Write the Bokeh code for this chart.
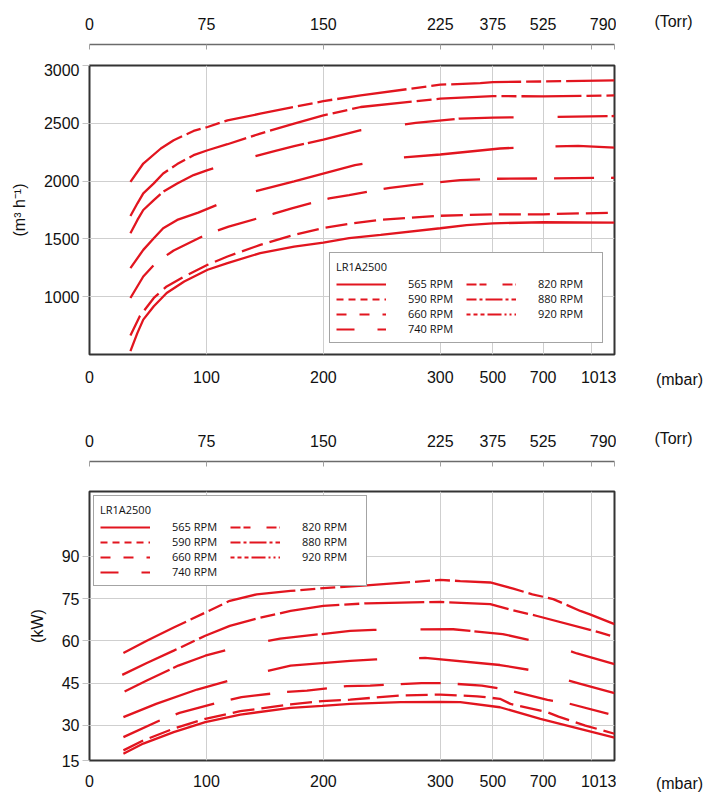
import numpy as np
from bokeh.embed import file_html
from bokeh.layouts import column, row
from bokeh.models import FixedTicker, Legend, LegendItem, Range1d
from bokeh.plotting import figure
from bokeh.resources import INLINE

# pressure axis is not linear: mbar knots and where they sit on the axis
MBAR_KNOTS = [0, 100, 200, 300, 500, 700, 900, 1013]
AXIS_POS = [0, 1, 2, 3, 3.45, 3.88, 4.29, 4.49]
MBAR_LABELS = ["0", "100", "200", "300", "500", "700", "", "1013"]
TORR_LABELS = ["0", "75", "150", "225", "375", "525", "", "790"]

RPMS = ["565 RPM", "590 RPM", "660 RPM", "740 RPM", "820 RPM", "880 RPM", "920 RPM"]

# flow (m3/h) vs pressure (mbar)
flow_565 = [(35, 529), (41, 687), (46, 802), (55, 917), (66, 1032), (81, 1132), (101, 1233), (118, 1290),
            (146, 1377), (175, 1434), (200, 1468), (222, 1506), (249, 1535), (300, 1592), (400, 1620),
            (500, 1635), (700, 1644), (1013, 1641)]
flow_590 = [(35, 664), (43, 831), (55, 989), (66, 1089), (81, 1175), (101, 1276), (118, 1348), (146, 1448),
            (175, 1535), (200, 1595), (222, 1630), (249, 1665), (300, 1700), (500, 1713), (700, 1713),
            (1013, 1727)]
flow_660 = [(35, 989), (46, 1175), (57, 1296), (72, 1400), (101, 1543), (119, 1606), (157, 1716), (173, 1764),
            (205, 1851), (222, 1879), (257, 1942), (276, 1966), (376, 2009), (500, 2020), (700, 2023),
            (1013, 2029)]
flow_740 = [(35, 1247), (46, 1405), (55, 1506), (63, 1592), (75, 1664), (93, 1727), (129, 1879), (175, 1997),
            (227, 2138), (264, 2201), (300, 2230), (528, 2282), (660, 2296), (846, 2304), (1013, 2290)]
flow_820 = [(35, 1549), (41, 1664), (46, 1750), (55, 1836), (63, 1908), (75, 1980), (89, 2052), (101, 2095),
            (121, 2158), (159, 2262), (175, 2302), (200, 2359), (222, 2415), (232, 2440), (279, 2503),
            (376, 2541), (500, 2549), (700, 2554), (1013, 2563)]
flow_880 = [(35, 1698), (41, 1808), (46, 1894), (55, 1980), (63, 2066), (75, 2147), (89, 2224), (101, 2267),
            (118, 2319), (146, 2411), (175, 2497), (200, 2569), (222, 2618), (232, 2641), (300, 2713),
            (500, 2735), (700, 2733), (1013, 2741)]
flow_920 = [(35, 1994), (46, 2152), (61, 2282), (72, 2353), (89, 2434), (101, 2468), (118, 2526), (146, 2583),
            (175, 2641), (200, 2692), (232, 2741), (300, 2834), (452, 2847), (500, 2856), (700, 2862),
            (1013, 2871)]

# power (kW) vs pressure (mbar)
power_565 = [(29, 19.9), (46, 23.5), (72, 27.6), (99, 31.1), (129, 33.8), (172, 36.2), (199, 36.9), (223, 37.6),
             (266, 38.2), (300, 38.3), (376, 38.2), (528, 36.4), (689, 32.3), (1013, 25.6)]
power_590 = [(29, 21.1), (46, 24.6), (72, 28.8), (99, 32.3), (129, 35.0), (172, 37.4), (199, 38.6), (223, 39.1),
             (266, 40.6), (300, 40.9), (440, 40.3), (528, 39.4), (570, 37.6), (718, 34.6), (764, 33.1),
             (876, 29.9), (1013, 27.0)]
power_660 = [(29, 25.8), (60, 31.7), (77, 34.4), (111, 38.2), (130, 40.0), (167, 41.8), (186, 42.3), (220, 43.9),
             (240, 44.1), (284, 45.0), (312, 45.0), (458, 44.1), (539, 42.9), (718, 39.0), (804, 37.8),
             (1013, 33.5)]
power_740 = [(29, 32.9), (57, 37.6), (92, 42.7), (135, 47.6), (172, 51.2), (223, 52.9), (245, 53.4), (287, 53.9),
             (528, 51.4), (649, 49.6), (848, 44.9), (1013, 41.4)]
power_820 = [(30, 42.0), (49, 45.9), (76, 51.2), (99, 54.7), (122, 57.3), (163, 60.8), (223, 63.5), (243, 63.9),
             (349, 64.1), (539, 62.4), (649, 60.2), (800, 56.7), (841, 55.5), (1013, 51.7)]
power_880 = [(28, 47.9), (49, 52.1), (72, 56.5), (99, 61.8), (120, 65.3), (143, 67.9), (172, 70.6), (200, 72.4),
             (237, 73.3), (300, 73.8), (490, 73.0), (581, 70.8), (676, 68.8), (944, 62.9), (1013, 61.4)]
power_920 = [(29, 55.7), (49, 60.0), (72, 64.7), (99, 70.0), (120, 74.2), (143, 76.5), (172, 77.7), (200, 78.7),
             (237, 79.7), (300, 81.6), (376, 81.2), (490, 80.7), (581, 78.5), (657, 76.5), (742, 74.8),
             (855, 70.6), (895, 69.4), (1013, 65.9)]

FLOW = [flow_565, flow_590, flow_660, flow_740, flow_820, flow_880, flow_920]
POWER = [power_565, power_590, power_660, power_740, power_820, power_880, power_920]

FLOW_TICKS = [1000, 1500, 2000, 2500, 3000]
POWER_TICKS = [17.5, 30, 45, 60, 75, 90]
POWER_LABELS = ["15", "30", "45", "60", "75", "90"]

RED = "#e2151f"
INK = "#111111"
FONT = "Liberation Sans"
LEG_FONT = "Open Sans"
CURVE_DASH = ["solid", "22 7", "40 17", "110 42", "50 4 55 44", "60 5 15 5", "70 5 15 5 15 5"]
LEGEND_DASH = ["solid", "7 5", "10 13", "18 23", "10 3 7 16", "10 3 3 3 17 3 3 3", "4 3 4 3 4 3 14 3 2 3 2 3"]

LEFT = 89        # left border, frame starts here
MAIN_W = 616     # left border + 525 px frame + 2
UNIT_W = 94      # strip on the right carrying "(mbar)" / "(Torr)"


def to_axis(mbar):
    return np.interp(mbar, MBAR_KNOTS, AXIS_POS)


x_range = Range1d(AXIS_POS[0], AXIS_POS[-1])


def style_labels(ax, standoff):
    ax.major_label_text_font = FONT
    ax.major_label_text_font_size = "16px"
    ax.major_label_text_color = INK
    ax.major_label_standoff = standoff
    ax.minor_tick_line_color = None


def unit_fig(height, top, bottom, location, text, x, standoff):
    u = figure(width=UNIT_W, height=height, x_range=Range1d(0, UNIT_W), y_range=Range1d(0, 1),
               x_axis_location=location, y_axis_location=None, toolbar_location=None,
               output_backend="svg", min_border_left=0, min_border_right=0,
               min_border_top=top, min_border_bottom=bottom)
    u.outline_line_color = None
    u.grid.visible = False
    ax = u.xaxis[0]
    ax.ticker = FixedTicker(ticks=[x])
    ax.major_label_overrides = {x: text}
    ax.axis_line_color = None
    ax.major_tick_line_color = None
    ax.major_tick_out = 0
    ax.major_tick_in = 0
    style_labels(ax, standoff)
    return u


def torr_strip(height, top):
    s = figure(width=MAIN_W, height=height, x_range=x_range, y_range=Range1d(0, 1),
               x_axis_location="above", y_axis_location=None, toolbar_location=None,
               output_backend="svg", min_border_left=LEFT, min_border_right=2,
               min_border_top=top, min_border_bottom=0)
    s.outline_line_color = None
    s.grid.visible = False
    ax = s.xaxis[0]
    ax.ticker = FixedTicker(ticks=AXIS_POS)
    ax.major_label_overrides = dict(zip(AXIS_POS, TORR_LABELS))
    ax.axis_line_color = "#6b6b6b"
    ax.axis_line_width = 1.5
    ax.major_tick_in = 5
    ax.major_tick_out = 0
    ax.major_tick_line_color = "#a0a0a0"
    style_labels(ax, 15)
    return row(s, unit_fig(height, top, 0, "above", "(Torr)", 57, 15))


def panel(height, bottom, y_range, y_ticks, y_labels, y_title, series, standoff,
          legend_loc, legend_margin):
    p = figure(width=MAIN_W, height=height, x_range=x_range, y_range=y_range,
               toolbar_location=None, output_backend="svg",
               min_border_left=LEFT, min_border_right=2,
               min_border_top=2, min_border_bottom=bottom)
    p.outline_line_color = "#333333"
    p.outline_line_width = 2

    p.xaxis.ticker = FixedTicker(ticks=AXIS_POS)
    p.xaxis.major_label_overrides = dict(zip(AXIS_POS, MBAR_LABELS))
    p.xaxis.axis_line_color = None
    p.xaxis.major_tick_line_color = None
    p.xaxis.major_tick_out = 0
    p.xaxis.major_tick_in = 0
    style_labels(p.xaxis[0], standoff)

    p.yaxis.ticker = FixedTicker(ticks=y_ticks)
    p.yaxis.major_label_overrides = dict(zip(y_ticks, y_labels))
    p.yaxis.axis_line_color = None
    p.yaxis.major_tick_out = 7
    p.yaxis.major_tick_in = 0
    p.yaxis.major_tick_line_color = "#c4c4c4"
    style_labels(p.yaxis[0], 3)
    p.yaxis.axis_label = y_title
    p.yaxis.axis_label_standoff = 13
    p.yaxis.axis_label_text_font = FONT
    p.yaxis.axis_label_text_font_size = "16px"
    p.yaxis.axis_label_text_font_style = "normal"
    p.yaxis.axis_label_text_color = INK

    p.xgrid.ticker = FixedTicker(ticks=AXIS_POS)
    p.ygrid.ticker = FixedTicker(ticks=y_ticks)
    p.grid.grid_line_color = "#cfcfcf"
    p.grid.grid_line_width = 1

    for pts, dash in zip(series, CURVE_DASH):
        xs = to_axis([a for a, _ in pts])
        ys = [b for _, b in pts]
        p.line(xs, ys, line_color=RED, line_width=2.3, line_dash=dash)

    # legend samples: short patterns as printed in the key, kept off-frame
    y0 = y_range.start
    items = []
    for name, dash in zip(RPMS, LEGEND_DASH):
        r = p.line(x=[-2, -1], y=[y0, y0], line_color=RED, line_width=2, line_dash=dash)
        items.append(LegendItem(label=name, renderers=[r]))
    leg = Legend(items=items, location=legend_loc, nrows=4, orientation="vertical",
                 title="LR1A2500", title_text_font=LEG_FONT, title_text_font_size="11px",
                 title_text_font_style="normal", title_text_color=INK, title_standoff=2,
                 label_text_font=LEG_FONT, label_text_font_size="11px", label_text_color=INK,
                 glyph_width=50, glyph_height=12, label_height=12, label_width=58,
                 label_standoff=22, spacing=0, padding=6, margin=legend_margin,
                 border_line_color="#4a4a4a", border_line_width=1.5,
                 background_fill_color="white", background_fill_alpha=1)
    p.add_layout(leg)

    return row(p, unit_fig(height, 2, bottom, "below", "(mbar)", 63, standoff))


torr_top = torr_strip(63, 44)
flow_plot = panel(347, 56, Range1d(500, 3000), FLOW_TICKS, [str(t) for t in FLOW_TICKS],
                  "(m³ h⁻¹)", FLOW, 16, "bottom_right", 11)
torr_bottom = torr_strip(79, 51)
power_plot = panel(305, 32, Range1d(17.5, 113), POWER_TICKS, POWER_LABELS,
                   "(kW)", POWER, 14, "top_left", 4)

layout = column(torr_top, flow_plot, torr_bottom, power_plot)

open("out.html", "w").write(file_html(layout, INLINE))
